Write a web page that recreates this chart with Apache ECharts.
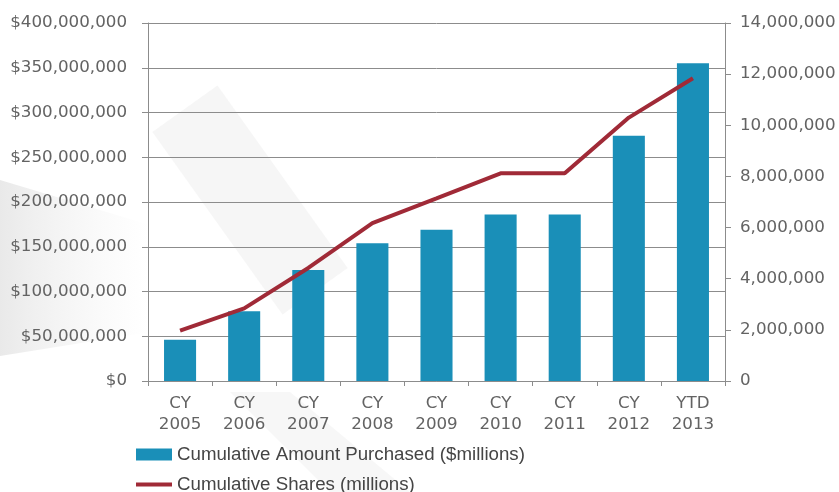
<!DOCTYPE html>
<html>
<head>
<meta charset="utf-8">
<script src="https://cdn.jsdelivr.net/npm/echarts@6/dist/echarts.min.js"></script>
<style>
  html, body { margin: 0; padding: 0; background: #ffffff; }
  #chart { width: 839px; height: 492px; }
</style>
</head>
<body>
<div id="chart"></div>
<script>
// Category labels (two lines each)
const categories = ['CY\n2005', 'CY\n2006', 'CY\n2007', 'CY\n2008', 'CY\n2009', 'CY\n2010', 'CY\n2011', 'CY\n2012', 'YTD\n2013'];

// Cumulative amount purchased, dollars (left axis)
const amountPurchased = [46000000, 78000000, 124000000, 154000000, 169000000, 186000000, 186000000, 274000000, 355000000];

// Cumulative shares (right axis)
const cumulativeShares = [1970000, 2840000, 4420000, 6170000, 7140000, 8120000, 8120000, 10300000, 11840000];

const seriesNames = ['Cumulative Amount Purchased ($millions)', 'Cumulative Shares (millions)'];

function withCommas(v) {
  return String(Math.round(v)).replace(/\B(?=(\d{3})+(?!\d))/g, ',');
}

const axisFont = { fontFamily: 'DejaVu Sans', fontSize: 16.7, color: '#636363' };
const axisLineStyle = { color: '#8c8c8c', width: 1 };
const legendText = { fontFamily: 'Liberation Sans', fontSize: 18.7, color: '#454545', padding: [0, 0, 8, 0] };

const chart = echarts.init(document.getElementById('chart'), null, { renderer: 'canvas' });

chart.setOption({
  backgroundColor: '#ffffff',
  animation: false,
  // faint grey backdrop shading behind the plot
  graphic: [
    {
      type: 'polygon',
      silent: true,
      z: -10,
      shape: { points: [[0, 180], [150, 225], [150, 332], [0, 356]] },
      style: {
        fill: new echarts.graphic.LinearGradient(0, 0, 1, 0, [
          { offset: 0, color: 'rgba(215,215,215,0.55)' },
          { offset: 1, color: 'rgba(235,235,235,0.0)' }
        ])
      }
    },
    {
      type: 'rect',
      silent: true,
      z: -10,
      x: 250, y: 200,
      rotation: 0.62,
      shape: { x: -40, y: -112, width: 80, height: 224 },
      style: { fill: 'rgba(228,228,228,0.35)' }
    },
    {
      type: 'polygon',
      silent: true,
      z: -10,
      shape: { points: [[230, 392], [290, 392], [410, 492], [330, 492]] },
      style: { fill: 'rgba(225,225,225,0.25)' }
    }
  ],
  grid: { left: 148, right: 114, top: 23, bottom: 111, containLabel: false },
  legend: [
    {
      data: [seriesNames[0]],
      orient: 'vertical',
      left: 131,
      top: 440,
      itemWidth: 36,
      itemHeight: 12,
      icon: 'rect',
      textStyle: legendText,
      selectedMode: false
    },
    {
      data: [seriesNames[1]],
      orient: 'vertical',
      left: 131,
      top: 470,
      itemWidth: 36,
      itemHeight: 4,
      icon: 'rect',
      textStyle: legendText,
      selectedMode: false
    }
  ],
  xAxis: {
    type: 'category',
    data: categories,
    axisLine: { show: true, lineStyle: axisLineStyle },
    axisTick: { show: true, alignWithLabel: false, length: 5, lineStyle: axisLineStyle },
    axisLabel: Object.assign({ margin: 12, lineHeight: 21, interval: 0 }, axisFont),
    splitLine: { show: false }
  },
  yAxis: [
    {
      type: 'value',
      min: 0,
      max: 400000000,
      interval: 50000000,
      position: 'left',
      axisLine: { show: true, lineStyle: axisLineStyle },
      axisTick: { show: true, length: 6, lineStyle: axisLineStyle },
      axisLabel: Object.assign({ margin: 21, formatter: v => '$' + withCommas(v) }, axisFont),
      splitLine: { show: true, lineStyle: { color: '#8c8c8c', width: 1 } }
    },
    {
      type: 'value',
      min: 0,
      max: 14000000,
      interval: 2000000,
      position: 'right',
      axisLine: { show: true, lineStyle: axisLineStyle },
      axisTick: { show: true, length: 6, lineStyle: axisLineStyle },
      axisLabel: Object.assign({ margin: 15, formatter: v => withCommas(v) }, axisFont),
      splitLine: { show: false }
    }
  ],
  series: [
    {
      name: seriesNames[0],
      type: 'bar',
      yAxisIndex: 0,
      data: amountPurchased,
      barCategoryGap: '50%',
      itemStyle: { color: '#1a8fb8' }
    },
    {
      name: seriesNames[1],
      type: 'line',
      yAxisIndex: 1,
      data: cumulativeShares,
      symbol: 'none',
      lineStyle: { color: '#a02a37', width: 4 },
      itemStyle: { color: '#a02a37' }
    }
  ]
});
</script>
</body>
</html>
